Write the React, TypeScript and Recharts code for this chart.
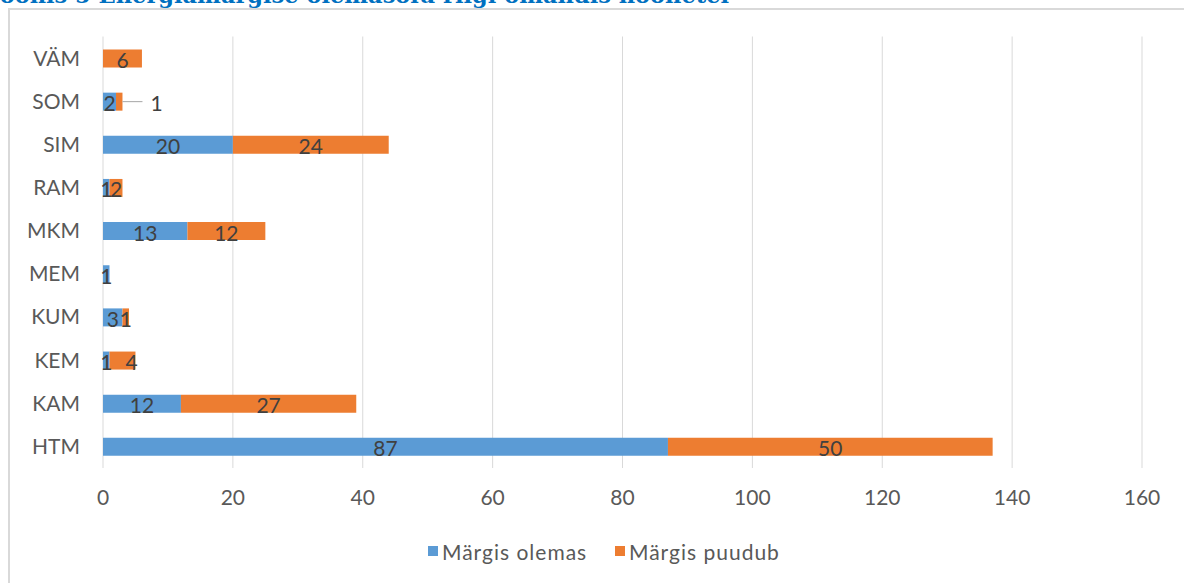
import { BarChart, Bar, XAxis, YAxis, CartesianGrid, LabelList } from 'recharts';

const CATEGORIES = ['VÄM', 'SOM', 'SIM', 'RAM', 'MKM', 'MEM', 'KUM', 'KEM', 'KAM', 'HTM'];
const MARGIS_OLEMAS = [0, 2, 20, 1, 13, 1, 3, 1, 12, 87];
const MARGIS_PUUDUB = [6, 1, 24, 2, 12, 0, 1, 4, 27, 50];
const X_TICKS = [0, 20, 40, 60, 80, 100, 120, 140, 160];

const BLUE = '#5B9BD5';
const ORANGE = '#ED7D31';
const FONT = 'Lato, "Noto Sans", sans-serif';

const data = CATEGORIES.map((name, i) => ({
  name,
  olemas: MARGIS_OLEMAS[i],
  puudub: MARGIS_PUUDUB[i],
}));

function SegmentLabel(props: any) {
  const { x, y, width, height, value, index } = props;
  if (!value) return null;
  const cx = x + width / 2;
  const cy = y + height / 2;
  const name = CATEGORIES[index];
  const common = { fontFamily: FONT, fontSize: 21, fill: '#404040', dominantBaseline: 'central' as const };
  // very narrow segments get the label pushed outside, like Excel does
  if (props.series === 'puudub' && name === 'SOM') {
    return (
      <g>
        <line x1={x + width} y1={cy} x2={x + width + 20} y2={cy} stroke="#A6A6A6" strokeWidth={1} />
        <text x={x + width + 28} y={cy + 1} {...common}>{value}</text>
      </g>
    );
  }
  const shift = props.series === 'puudub' && name === 'KUM' ? 9 : 0;
  return (
    <text x={cx + shift} y={cy + 1} textAnchor="middle" {...common}>
      {value}
    </text>
  );
}

function LegendItem({ left, color, label }: { left: number; color: string; label: string }) {
  return (
    <div style={{ position: 'absolute', left, top: 539, display: 'flex', alignItems: 'center', height: 24 }}>
      <span style={{ width: 10, height: 10, background: color, display: 'inline-block', marginRight: 4 }} />
      <span style={{ fontFamily: FONT, fontSize: 21, color: '#595959', letterSpacing: 1, whiteSpace: 'nowrap' }}>
        {label}
      </span>
    </div>
  );
}

export default function App() {
  return (
    <div style={{ position: 'absolute', top: 0, left: 0, width: 1184, height: 583, overflow: 'hidden', background: '#fff' }}>
      <div
        style={{
          position: 'absolute',
          top: -16,
          left: -11,
          fontFamily: '"DejaVu Serif", serif',
          fontWeight: 'bold',
          fontSize: 22.5,
          lineHeight: '22px',
          color: '#0070C0',
          whiteSpace: 'nowrap',
        }}
      >
        Joonis 5 Energiamärgise olemasolu riigi omandis hoonetel
      </div>
      <div
        style={{
          position: 'absolute',
          top: 8,
          left: 8,
          width: 1200,
          height: 600,
          borderTop: '2px solid #D9D9D9',
          borderLeft: '2px solid #D9D9D9',
        }}
      />
      <BarChart
        width={1184}
        height={583}
        data={data}
        layout="vertical"
        margin={{ top: 36.5, right: 42, left: 0, bottom: 85 }}
        barSize={18}
        style={{ position: 'absolute', top: 0, left: 0 }}
      >
        <CartesianGrid horizontal={false} stroke="#D9D9D9" strokeWidth={1} />
        <XAxis
          type="number"
          domain={[0, 160]}
          ticks={X_TICKS}
          axisLine={false}
          tickLine={false}
          tickSize={0}
          tickMargin={22}
          tick={{ fontFamily: FONT, fontSize: 21, fill: '#595959' }}
          interval={0}
        />
        <YAxis
          type="category"
          dataKey="name"
          width={103}
          axisLine={false}
          tickLine={false}
          tickSize={0}
          tickMargin={23}
          tick={{ fontFamily: FONT, fontSize: 21, fill: '#595959' }}
          interval={0}
        />
        <Bar dataKey="olemas" name="Märgis olemas" stackId="a" fill={BLUE} isAnimationActive={false}>
          <LabelList dataKey="olemas" content={(p: any) => <SegmentLabel {...p} series="olemas" />} />
        </Bar>
        <Bar dataKey="puudub" name="Märgis puudub" stackId="a" fill={ORANGE} isAnimationActive={false}>
          <LabelList dataKey="puudub" content={(p: any) => <SegmentLabel {...p} series="puudub" />} />
        </Bar>
      </BarChart>
      <LegendItem left={428} color={BLUE} label="Märgis olemas" />
      <LegendItem left={615} color={ORANGE} label="Märgis puudub" />
    </div>
  );
}
